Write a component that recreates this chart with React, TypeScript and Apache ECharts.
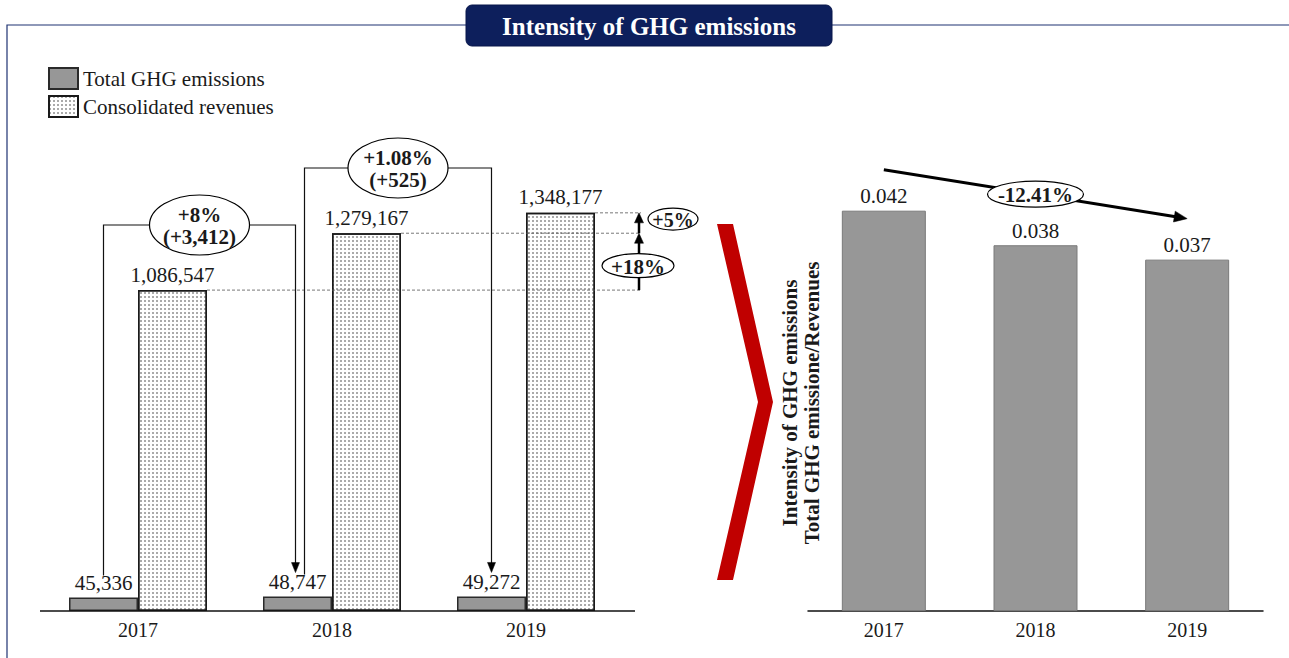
import React, { useEffect, useRef } from "react";
import * as echarts from "echarts";

// ---------- data ----------
const years = ["2017", "2018", "2019"];
const ghgEmissions = [45336, 48747, 49272];
const revenues = [1086547, 1279167, 1348177];
const intensity = [0.0417, 0.0381, 0.0366];
const ghgChangeLabels = ["+8%\n(+3,412)", "+1.08%\n(+525)"];
const revenueChangeLabels = ["+18%", "+5%"];
const intensityChangeLabel = "-12.41%";
const legendNames = ["Total GHG emissions", "Consolidated revenues"];
const titleText = "Intensity of GHG emissions";
const intensityAxisTitle = "Intensity of GHG emissions\nTotal GHG emissione/Revenues";

const FONT = '"Liberation Serif", "Times New Roman", serif';
const INK = "#1a1a1a";
const BAR_GRAY = "#979797";
const BWL = 69; // left bar width
const BWR = 84; // right bar width

function arrowHead(tx: number, ty: number, ang: number, len: number, half: number, z = 12) {
  const bx = tx - len * Math.cos(ang);
  const by = ty - len * Math.sin(ang);
  const px = -Math.sin(ang) * half;
  const py = Math.cos(ang) * half;
  return {
    type: "polygon",
    z,
    shape: { points: [[tx, ty], [bx + px, by + py], [bx - px, by - py]] },
    style: { fill: "#000", stroke: "#000", lineWidth: 0.5 },
  };
}

function txt(text: string, x: number, y: number, size: number, bold: boolean, fill = INK, z = 14, extra: any = {}) {
  return {
    type: "text",
    z,
    x,
    y,
    ...extra,
    style: {
      text,
      fill,
      fontSize: size,
      fontFamily: FONT,
      fontWeight: bold ? "bold" : "normal",
      textAlign: "center",
      textVerticalAlign: "middle",
      lineHeight: size + 1,
    },
  };
}

function ellipse(cx: number, cy: number, rx: number, ry: number, z = 13) {
  return {
    type: "ellipse",
    z,
    shape: { cx, cy, rx, ry },
    style: { fill: "#fff", stroke: "#000", lineWidth: 1.2 },
  };
}

export default function App() {
  const ref = useRef<HTMLDivElement>(null);

  useEffect(() => {
    if (!ref.current) return;
    const chart = echarts.init(ref.current, null, { renderer: "svg" });
    const labelBase = { fontSize: 21, fontFamily: FONT, color: INK };

    chart.setOption({
      animation: false,
      backgroundColor: "#fff",
      legend: {
        data: legendNames,
        orient: "vertical",
        left: 48,
        top: 67,
        padding: 0,
        itemWidth: 29,
        itemHeight: 21,
        itemGap: 5,
        icon: "rect",
        selectedMode: false,
        textStyle: { fontSize: 21, fontFamily: FONT, color: INK, lineHeight: 22 },
      },
      grid: [
        { left: 41, width: 582, top: 168, height: 443 },
        { left: 808, width: 455, top: 131, height: 480 },
      ],
      xAxis: [
        {
          type: "category",
          gridIndex: 0,
          data: years,
          axisLine: { show: false },
          axisTick: { show: false },
          axisLabel: { fontSize: 20, fontFamily: FONT, color: INK, margin: 9 },
        },
        {
          type: "category",
          gridIndex: 1,
          data: years,
          axisLine: { show: true, lineStyle: { color: "#111", width: 1.5 } },
          axisTick: { show: false },
          axisLabel: { fontSize: 20, fontFamily: FONT, color: INK, margin: 9 },
        },
      ],
      yAxis: [
        { type: "value", gridIndex: 0, min: 0, max: 1500000, show: false },
        { type: "value", gridIndex: 1, min: 0, max: 0.05, show: false },
      ],
      series: [
        {
          type: "bar",
          name: legendNames[0],
          xAxisIndex: 0,
          yAxisIndex: 0,
          data: ghgEmissions,
          barWidth: BWL,
          barGap: "0%",
          itemStyle: { color: BAR_GRAY, borderColor: "#2a2a2a", borderWidth: 1.5 },
          label: {
            show: true,
            position: "top",
            distance: 4,
            formatter: (p: any) => Number(p.value).toLocaleString("en-US"),
            ...labelBase,
          },
        },
        {
          type: "bar",
          name: legendNames[1],
          xAxisIndex: 0,
          yAxisIndex: 0,
          data: revenues,
          barWidth: BWL,
          barGap: "0%",
          itemStyle: {
            color: "#ffffff",
            borderColor: "#1a1a1a",
            borderWidth: 1.5,
            decal: {
              symbol: "rect",
              symbolSize: 0.65,
              color: "rgba(50,50,50,0.85)",
              dashArrayX: [1.5, 1.6],
              dashArrayY: [1.5, 1.6],
              rotation: 0,
            },
          },
          label: {
            show: true,
            position: "top",
            distance: 5,
            formatter: (p: any) => Number(p.value).toLocaleString("en-US"),
            ...labelBase,
          },
        },
        {
          type: "bar",
          name: "Intensity",
          xAxisIndex: 1,
          yAxisIndex: 1,
          data: intensity,
          barWidth: BWR,
          itemStyle: { color: BAR_GRAY, borderColor: "#7a7a7a", borderWidth: 1 },
          label: {
            show: true,
            position: "top",
            distance: 4,
            formatter: (p: any) => (Math.round(Number(p.value) * 1000) / 1000).toFixed(3),
            ...labelBase,
          },
        },
      ],
    });

    const P = (g: number, i: number, v: number) =>
      chart.convertToPixel({ xAxisIndex: g, yAxisIndex: g } as any, [i, v]) as number[];

    const baseY = P(0, 0, 0)[1];
    const grayX = years.map((_, i) => P(0, i, 0)[0] - BWL / 2);
    const revRight = years.map((_, i) => P(0, i, 0)[0] + BWL);
    const grayTop = ghgEmissions.map((v, i) => P(0, i, v)[1]);
    const revTop = revenues.map((v, i) => P(0, i, v)[1]);

    const g: any[] = [];
    // frame and title
    g.push({
      type: "rect",
      z: 1,
      shape: { x: 7, y: 25, width: 1300, height: 700 },
      style: { fill: "none", stroke: "#1f3272", lineWidth: 1.2 },
    });
    g.push({
      type: "rect",
      z: 5,
      shape: { x: 466, y: 5, width: 366, height: 41, r: 6 },
      style: { fill: "#0d1f5c", stroke: "#08164a", lineWidth: 1 },
    });
    g.push(txt(titleText, 649, 26, 25, true, "#ffffff", 6));

    // left baseline
    g.push({
      type: "line",
      z: 9,
      shape: { x1: 40, y1: baseY, x2: revRight[2] + 40, y2: baseY },
      style: { stroke: "#111", lineWidth: 1.5 },
    });

    // GHG brackets
    const bracketY = [225, 168];
    const startX = [grayX[0], grayX[1] + 7];
    const endX = [grayX[1] - 2, grayX[2]];
    for (let k = 0; k < 2; k++) {
      const sx = startX[k];
      const ex = endX[k];
      const by = bracketY[k];
      const sBottom = grayTop[k] - 22;
      const tip = grayTop[k + 1] - 24;
      g.push({
        type: "polyline",
        z: 10,
        shape: { points: [[sx, sBottom], [sx, by], [ex, by], [ex, tip - 8]] },
        style: { stroke: "#111", lineWidth: 1.2, fill: "none" },
      });
      g.push(arrowHead(ex, tip, Math.PI / 2, 10, 4, 11));
      g.push(ellipse((sx + ex) / 2, by, 50, 30));
      g.push(txt(ghgChangeLabels[k], (sx + ex) / 2, by + 1, 21, true));
    }

    // revenue dashed guides and growth arrows
    const xArrow = revRight[2] + 44;
    for (let i = 0; i < 3; i++) {
      g.push({
        type: "line",
        z: 8,
        shape: { x1: revRight[i], y1: revTop[i], x2: xArrow + 2, y2: revTop[i] },
        style: { stroke: "#555", lineWidth: 0.8, lineDash: [3, 2] },
      });
    }
    g.push({
      type: "line",
      z: 10,
      shape: { x1: xArrow, y1: revTop[0], x2: xArrow, y2: revTop[1] + 8 },
      style: { stroke: "#000", lineWidth: 2.5 },
    });
    g.push(arrowHead(xArrow, revTop[1], -Math.PI / 2, 10, 4.5, 11));
    g.push({
      type: "line",
      z: 10,
      shape: { x1: xArrow, y1: revTop[1], x2: xArrow, y2: revTop[2] + 8 },
      style: { stroke: "#000", lineWidth: 2.5 },
    });
    g.push(arrowHead(xArrow, revTop[2], -Math.PI / 2, 10, 4.5, 11));
    const e18y = (revTop[0] + revTop[1]) / 2 + 4;
    g.push(ellipse(xArrow - 1, e18y, 36, 12));
    g.push(txt(revenueChangeLabels[0], xArrow - 1, e18y + 1, 21, true));
    const e5x = xArrow + 34;
    const e5y = (revTop[1] + revTop[2]) / 2 - 4;
    g.push(ellipse(e5x, e5y, 25, 11));
    g.push(txt(revenueChangeLabels[1], e5x, e5y + 1, 20, true));

    // red chevron
    g.push({
      type: "polygon",
      z: 5,
      shape: { points: [[717, 224], [733, 224], [773, 402], [733, 580], [717, 580], [758, 402]] },
      style: { fill: "#c00000" },
    });

    // right axis title
    g.push(txt(intensityAxisTitle, 801, 403, 21, true, INK, 14, { rotation: Math.PI / 2 }));

    // right trend arrow
    const r0 = P(1, 0, intensity[0]);
    const r2 = P(1, 2, intensity[2]);
    const x1 = r0[0];
    const y1 = r0[1] - 41;
    const x2 = r2[0];
    const y2 = r2[1] - 41;
    const ang = Math.atan2(y2 - y1, x2 - x1);
    g.push({
      type: "line",
      z: 10,
      shape: { x1, y1, x2: x2 - 10 * Math.cos(ang), y2: y2 - 10 * Math.sin(ang) },
      style: { stroke: "#000", lineWidth: 3 },
    });
    g.push(arrowHead(x2, y2, ang, 13, 5.5, 11));
    const mx = (x1 + x2) / 2;
    const my = (y1 + y2) / 2;
    g.push(ellipse(mx, my, 48, 13));
    g.push(txt(intensityChangeLabel, mx, my + 1, 21, true));

    chart.setOption({ graphic: { elements: g } });

    return () => chart.dispose();
  }, []);

  return (
    <div
      ref={ref}
      style={{ position: "fixed", left: 0, top: 0, width: 1289, height: 658, background: "#fff" }}
    />
  );
}
